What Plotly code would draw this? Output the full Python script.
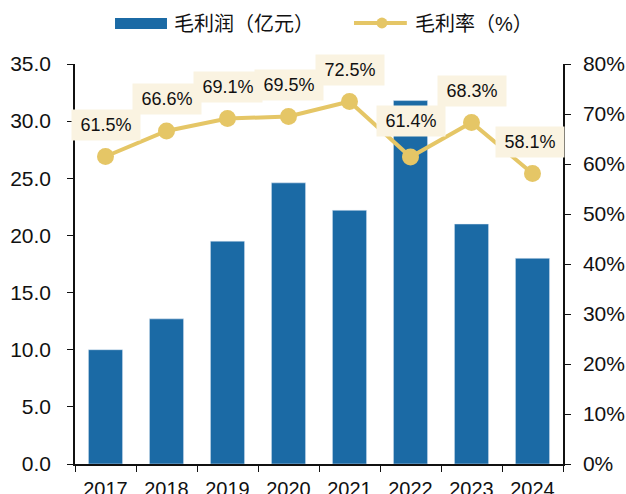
import plotly.graph_objects as go

years = ["2017", "2018", "2019", "2020", "2021", "2022", "2023", "2024"]
gross_profit = [10.0, 12.7, 19.5, 24.6, 22.2, 31.8, 21.0, 18.0]
gross_margin = [61.5, 66.6, 69.1, 69.5, 72.5, 61.4, 68.3, 58.1]
left_ticks = [0, 5, 10, 15, 20, 25, 30, 35]
right_ticks = [0, 10, 20, 30, 40, 50, 60, 70, 80]

BLUE = "#1B6AA5"
GOLD = "#E5C666"
LABEL_BG = "#FAF3E1"
FONT = "Arial, 'Liberation Sans', 'Noto Sans CJK SC', sans-serif"

fig = go.Figure()
fig.add_trace(go.Bar(x=years, y=gross_profit, marker_color=BLUE, name="毛利润（亿元）",
                     yaxis="y", showlegend=False))
fig.add_trace(go.Scatter(x=years, y=[v / 100 for v in gross_margin], mode="lines+markers",
                         line=dict(color=GOLD, width=4), marker=dict(color=GOLD, size=17),
                         name="毛利率（%）", yaxis="y2", showlegend=False, cliponaxis=False))

# data labels (x given as category index)
label_yshift = [32, 32, 32, 32, 32, 36, 32, 32]
label_xshift = [0, 0, 0, 0, 0, 0, 0, -3]
for i, v in enumerate(gross_margin):
    fig.add_annotation(x=i, y=v / 100, xref="x", yref="y2", text=f"{v:.1f}%",
                       showarrow=False, yshift=label_yshift[i], xshift=label_xshift[i],
                       bgcolor=LABEL_BG, borderpad=4, width=60, height=22,
                       font=dict(size=18, color="#111", family=FONT))

# custom legend
fig.add_shape(type="rect", xref="paper", yref="paper", x0=0.082, x1=0.1885, y0=1.0875, y1=1.115,
              fillcolor=BLUE, line_width=0)
fig.add_annotation(xref="paper", yref="paper", x=0.199, y=1.10, text="毛利润（亿元）", showarrow=False,
                   xanchor="left", yanchor="middle", font=dict(size=20, color="#111", family=FONT))
fig.add_shape(type="line", xref="paper", yref="paper", x0=0.5717, x1=0.680, y0=1.1025, y1=1.1025,
              line=dict(color=GOLD, width=4))
fig.add_shape(type="circle", xref="paper", yref="paper", x0=0.6177, x1=0.6403, y0=1.089, y1=1.116,
              fillcolor=GOLD, line_width=0)
fig.add_annotation(xref="paper", yref="paper", x=0.6926, y=1.10, text="毛利率（%）", showarrow=False,
                   xanchor="left", yanchor="middle", font=dict(size=20, color="#111", family=FONT))

fig.update_layout(
    width=626, height=494,
    margin=dict(l=75, r=63, t=64, b=30),
    paper_bgcolor="white", plot_bgcolor="white",
    font=dict(family=FONT, size=20, color="#111"),
    bargap=0.44,
    xaxis=dict(type="category", categoryarray=years, range=[-0.5, len(years) - 0.5], autorange=False,
               showline=True, linecolor="#111", linewidth=1.5, ticks="outside", ticklen=6,
               tickson="boundaries", tickcolor="#111", showgrid=False, tickfont=dict(size=20),
               tickangle=0, automargin=False, ticklabelstandoff=6),
    yaxis=dict(range=[0, 35], tickvals=left_ticks, ticktext=[f"{t:.1f}" for t in left_ticks],
               showline=True, linecolor="#111", linewidth=1.5, ticks="outside", ticklen=6,
               tickcolor="#111", showgrid=False, zeroline=False, automargin=False,
               tickfont=dict(size=21), ticklabelstandoff=12),
    yaxis2=dict(range=[0, 0.8], overlaying="y", side="right",
                tickvals=[t / 100 for t in right_ticks], ticktext=[f"{t}%" for t in right_ticks],
                showline=True, linecolor="#111", linewidth=1.5, ticks="outside", ticklen=6,
                tickcolor="#111", showgrid=False, zeroline=False, automargin=False,
                tickfont=dict(size=21), ticklabelstandoff=8),
    showlegend=False,
)

fig.write_html("out.html", config={"displayModeBar": False},
               post_script="document.body.style.margin='0';")
